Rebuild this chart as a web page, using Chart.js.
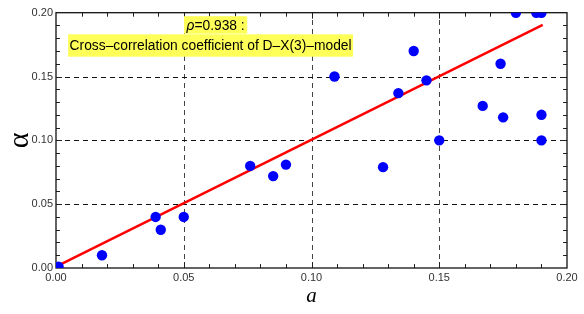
<!DOCTYPE html>
<html>
<head>
<meta charset="utf-8">
<script src="https://cdn.jsdelivr.net/npm/chart.js@4.4.0/dist/chart.umd.min.js"></script>
<style>
  html, body { margin: 0; padding: 0; background: #fff; }
  #wrap { width: 584px; height: 314px; }
</style>
</head>
<body>
<div id="wrap"><canvas id="chart" width="584" height="314"></canvas></div>
<script>
// measured points: a on x, alpha on y
const aValues = [0.001, 0.018, 0.039, 0.041, 0.050, 0.076, 0.085, 0.090, 0.109, 0.128, 0.134,
                 0.140, 0.145, 0.150, 0.167, 0.174, 0.175, 0.180, 0.188, 0.190, 0.190, 0.190];
const alphaValues = [0.001, 0.010, 0.040, 0.030, 0.040, 0.080, 0.072, 0.081, 0.150, 0.079, 0.137,
                     0.170, 0.147, 0.100, 0.127, 0.160, 0.118, 0.200, 0.200, 0.200, 0.120, 0.100];

// fitted line
const fitA = [0.001, 0.1905];
const fitAlpha = [0.002, 0.1905];

// axis ticks
const majorTicks = [0, 0.05, 0.10, 0.15, 0.20];
const minorStep = 0.01;

// annotation
const noteSymbol = 'ρ';
const noteLines = ['=0.938 :', 'Cross–correlation coefficient of D–X(3)–model'];

const sansFont = '"Liberation Sans", Arial, sans-serif';

function toXY(xs, ys) {
    return xs.map((x, i) => ({ x: x, y: ys[i] }));
}

// frame, dashed grid and inward tick marks
const framePlugin = {
    id: 'frame',
    beforeDatasetsDraw(chart) {
        const { ctx, chartArea: ca, scales } = chart;
        const xs = scales.x, ys = scales.y;
        ctx.save();

        // dashed grid at inner major ticks
        ctx.lineWidth = 1;
        ctx.setLineDash([5, 4]);
        majorTicks.forEach(v => {
            if (v <= 0 || v >= 0.2) return;
            const px = Math.round(xs.getPixelForValue(v)) + 0.5;
            ctx.strokeStyle = '#444';
            ctx.beginPath();
            ctx.moveTo(px, ca.bottom);
            ctx.lineTo(px, ca.top);
            ctx.stroke();
            const py = Math.round(ys.getPixelForValue(v)) + 0.5;
            ctx.strokeStyle = '#111';
            ctx.beginPath();
            ctx.moveTo(ca.left, py);
            ctx.lineTo(ca.right, py);
            ctx.stroke();
        });
        ctx.setLineDash([]);

        // minor / major tick marks on all four sides
        ctx.strokeStyle = '#222';
        ctx.lineWidth = 1;
        for (let i = 1; i < 20; i++) {
            const v = i * minorStep;
            const len = (i % 5 === 0) ? 6 : 4;
            const px = Math.round(xs.getPixelForValue(v)) + 0.5;
            const py = Math.round(ys.getPixelForValue(v)) + 0.5;
            ctx.beginPath();
            ctx.moveTo(px, ca.bottom); ctx.lineTo(px, ca.bottom - len);
            ctx.moveTo(px, ca.top); ctx.lineTo(px, ca.top + len);
            ctx.moveTo(ca.left, py); ctx.lineTo(ca.left + len, py);
            ctx.moveTo(ca.right, py); ctx.lineTo(ca.right - len, py);
            ctx.stroke();
        }

        // frame
        ctx.lineWidth = 1.3;
        ctx.strokeStyle = '#111';
        ctx.strokeRect(ca.left, ca.top, ca.right - ca.left, ca.bottom - ca.top);
        ctx.restore();
    }
};

// yellow text annotation
const notePlugin = {
    id: 'note',
    afterDatasetsDraw(chart) {
        const { ctx, chartArea: ca, scales } = chart;
        const cx = scales.x.getPixelForValue(0.0605);
        ctx.save();
        ctx.textBaseline = 'middle';
        ctx.textAlign = 'left';

        // line 1: italic rho + value
        const regFont = '13.8px ' + sansFont;
        const itFont = 'italic 13.8px ' + sansFont;
        ctx.font = itFont;
        const wSym = ctx.measureText(noteSymbol).width;
        ctx.font = regFont;
        const wRest = ctx.measureText(noteLines[0]).width;
        const w1 = wSym + wRest;
        const c1 = cx + 5;
        const top1 = ca.top + 3.5;
        ctx.fillStyle = '#ffff5a';
        ctx.fillRect(c1 - w1 / 2 - 2.5, top1, w1 + 5, 17.5);
        ctx.fillStyle = '#000';
        ctx.font = itFont;
        ctx.fillText(noteSymbol, c1 - w1 / 2, top1 + 9.5);
        ctx.font = regFont;
        ctx.fillText(noteLines[0], c1 - w1 / 2 + wSym, top1 + 9.5);

        // line 2
        const w2 = ctx.measureText(noteLines[1]).width;
        const top2 = ca.top + 21.6;
        ctx.fillStyle = '#ffff5a';
        ctx.fillRect(cx - w2 / 2 - 1.5, top2, w2 + 3, 22.4);
        ctx.fillStyle = '#000';
        ctx.fillText(noteLines[1], cx - w2 / 2, top2 + 12);
        ctx.restore();
    }
};

const ctx = document.getElementById('chart').getContext('2d');
const chart = new Chart(ctx, {
    type: 'scatter',
    data: {
        datasets: [
            {
                label: 'fit',
                data: toXY(fitA, fitAlpha),
                showLine: true,
                borderColor: '#ff0000',
                borderWidth: 2.5,
                pointRadius: 0,
                order: 2,
                clip: 0
            },
            {
                label: 'points',
                data: toXY(aValues, alphaValues),
                backgroundColor: '#0000ff',
                pointBackgroundColor: '#0000ff',
                pointRadius: 5.2,
                pointBorderWidth: 0,
                order: 1,
                clip: 0
            }
        ]
    },
    options: {
        responsive: false,
        animation: false,
        layout: { padding: { top: 12.7, right: 17, bottom: 0, left: 0 } },
        plugins: {
            legend: { display: false },
            tooltip: { enabled: false }
        },
        scales: {
            x: {
                type: 'linear',
                min: 0,
                max: 0.2,
                afterBuildTicks: s => { s.ticks = majorTicks.map(v => ({ value: v })); },
                afterFit: s => { s.height = 46; },
                ticks: {
                    font: { family: sansFont, size: 11 },
                    color: '#333',
                    padding: 3,
                    maxRotation: 0,
                    autoSkip: false,
                    callback: v => v.toFixed(2)
                },
                grid: { display: false, drawTicks: false },
                border: { display: false },
                title: {
                    display: true,
                    text: 'a',
                    color: '#000',
                    font: { family: '"Liberation Serif", serif', style: 'italic', size: 21, lineHeight: 1 },
                    padding: { top: 3, bottom: 7 }
                }
            },
            y: {
                type: 'linear',
                min: 0,
                max: 0.2,
                afterBuildTicks: s => { s.ticks = majorTicks.map(v => ({ value: v })); },
                afterFit: s => { s.width = 56; },
                ticks: {
                    font: { family: sansFont, size: 11 },
                    color: '#333',
                    padding: 3,
                    autoSkip: false,
                    callback: v => v.toFixed(2)
                },
                grid: { display: false, drawTicks: false },
                border: { display: false },
                title: {
                    display: true,
                    text: 'α',
                    color: '#000',
                    font: { family: '"Liberation Serif", serif', size: 30, lineHeight: 1 },
                    padding: { top: 5, bottom: 0 }
                }
            }
        }
    },
    plugins: [framePlugin, notePlugin]
});
</script>
</body>
</html>
